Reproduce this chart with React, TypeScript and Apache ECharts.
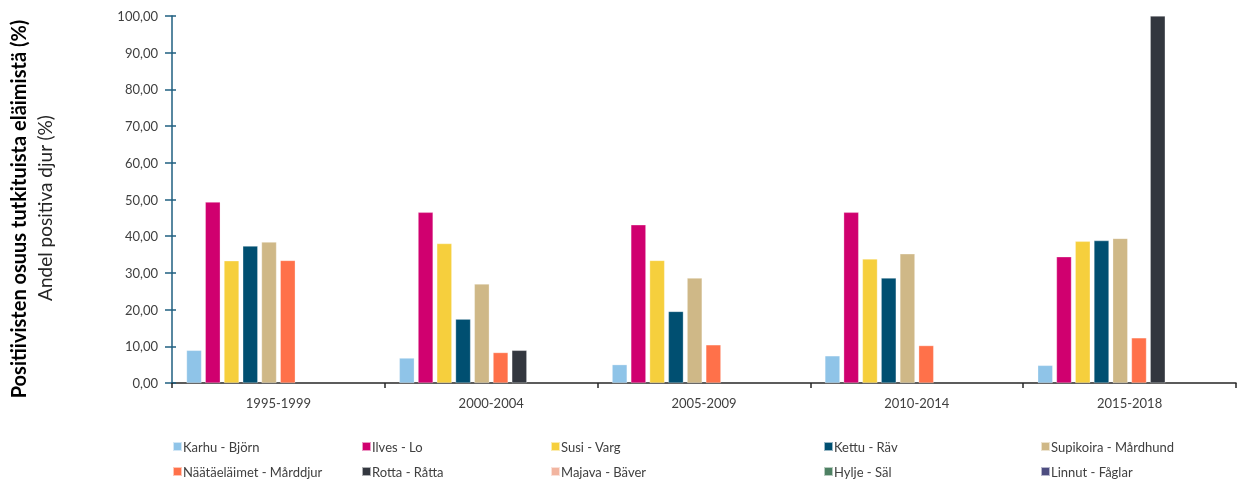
import React, { useEffect, useRef } from "react";
import * as echarts from "echarts";

const categories = ["1995-1999", "2000-2004", "2005-2009", "2010-2014", "2015-2018"];
const seriesNames = [
  "Karhu - Björn",
  "Ilves - Lo",
  "Susi - Varg",
  "Kettu - Räv",
  "Supikoira - Mårdhund",
  "Näätäeläimet - Mårddjur",
  "Rotta - Råtta",
  "Majava - Bäver",
  "Hylje - Säl",
  "Linnut - Fåglar",
];
const seriesColors = [
  "#8FC4E8",
  "#D0006F",
  "#F6CF3D",
  "#004F71",
  "#CFB887",
  "#FF714A",
  "#33373F",
  "#F2B5A0",
  "#4E8163",
  "#4D4D80",
];
const karhu = [8.9, 6.8, 5.0, 7.4, 4.8];
const ilves = [49.3, 46.5, 43.1, 46.5, 34.4];
const susi = [33.3, 38.0, 33.4, 33.8, 38.6];
const kettu = [37.3, 17.4, 19.5, 28.6, 38.8];
const supikoira = [38.4, 27.0, 28.6, 35.2, 39.4];
const naata = [33.4, 8.3, 10.4, 10.2, 12.3];
const rotta = [null, 8.9, null, null, 100];
const majava = [null, null, null, null, null];
const hylje = [null, null, null, null, null];
const linnut = [null, null, null, null, null];
const seriesValues = [karhu, ilves, susi, kettu, supikoira, naata, rotta, majava, hylje, linnut];

const yTitle1 = "Positiivisten osuus tutkituista eläimistä (%)";
const yTitle2 = "Andel positiva djur (%)";

const FONT = "Lato, 'Open Sans', sans-serif";

export default function App() {
  const ref = useRef<HTMLDivElement>(null);
  useEffect(() => {
    if (!ref.current) return;
    const chart = echarts.init(ref.current, undefined, { renderer: "svg" });
    const legendCols = [172, 361, 550, 823, 1040];
    const legendRows = [440, 465];
    const legends = seriesNames.map((name, i) => ({
      orient: "horizontal",
      left: legendCols[i % 5],
      top: legendRows[Math.floor(i / 5)],
      padding: 0,
      itemWidth: 9,
      itemHeight: 9,
      itemGap: 0,
      icon: "rect",
      selectedMode: false,
      textStyle: { fontFamily: FONT, fontSize: 13, color: "#404040", padding: [0, 0, 0, -4] },
      data: [name],
    }));
    chart.setOption({
      animation: false,
      textStyle: { fontFamily: FONT },
      grid: { left: 172, right: 1, top: 16, bottom: 101, containLabel: false },
      legend: legends,
      xAxis: {
        type: "category",
        data: categories,
        axisLine: { lineStyle: { color: "#262626", width: 1.5 } },
        axisTick: { show: true, length: 5, lineStyle: { color: "#262626", width: 1.5 } },
        axisLabel: { fontFamily: FONT, fontSize: 13, color: "#404040", margin: 13 },
      },
      yAxis: [
        {
          type: "value",
          min: 0,
          max: 100,
          interval: 10,
          splitLine: { show: false },
          axisLine: { show: true, lineStyle: { color: "#1F5F80", width: 1.5 } },
          axisTick: { show: true, length: 7, lineStyle: { color: "#1F5F80", width: 1.5 } },
          axisLabel: {
            fontFamily: FONT,
            fontSize: 13,
            color: "#404040",
            margin: 14,
            formatter: (v: number) => v.toFixed(2).replace(".", ","),
          },
        },
        {
          type: "value",
          min: 0,
          max: 100,
          interval: 10,
          position: "left",
          splitLine: { show: false },
          axisLine: { show: false },
          axisTick: { show: true, inside: true, length: 4, lineStyle: { color: "#1F5F80", width: 1.5 } },
          axisLabel: { show: false },
        },
      ],
      series: seriesNames.map((name, i) => ({
        name,
        type: "bar",
        yAxisIndex: 0,
        data: seriesValues[i],
        barWidth: 15,
        barGap: "25%",
        itemStyle: { color: seriesColors[i], borderColor: "rgba(255,255,255,0.6)", borderWidth: 0.5 },
      })),
      graphic: [
        {
          type: "text",
          x: 18,
          y: 209,
          rotation: Math.PI / 2,
          style: {
            text: yTitle1,
            font: `bold 20px ${FONT}`,
            fill: "#000000",
            textAlign: "center",
            textVerticalAlign: "middle",
          },
        },
        {
          type: "text",
          x: 44,
          y: 208,
          rotation: Math.PI / 2,
          style: {
            text: yTitle2,
            font: `19px ${FONT}`,
            fill: "#262626",
            textAlign: "center",
            textVerticalAlign: "middle",
          },
        },
      ],
    });
    return () => chart.dispose();
  }, []);
  return <div ref={ref} style={{ width: 1237, height: 484, position: "fixed", left: 0, top: 0 }} />;
}
